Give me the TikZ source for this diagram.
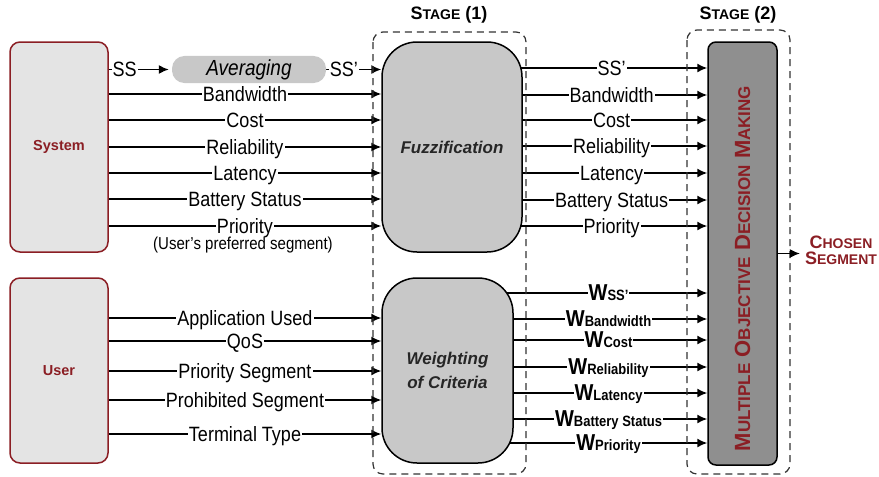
\documentclass[tikz,border=0pt]{standalone}
\usepackage{fontspec}
\usepackage{graphicx}
\setmainfont{Liberation Sans}
\usetikzlibrary{arrows.meta,backgrounds}

\definecolor{sysred}{RGB}{139,30,36}
\definecolor{srcgray}{RGB}{228,228,228}
\definecolor{procgray}{RGB}{200,200,200}
\definecolor{modmgray}{RGB}{143,143,143}

\newcommand{\bigsc}{\fontsize{18}{18}\selectfont}
\newcommand{\smallsc}{\fontsize{14}{14}\selectfont}
\newcommand{\tall}[1]{\scalebox{1}[1.15]{#1}}
\newcommand{\wlbl}[1]{\tall{{\fontsize{20}{20}\selectfont\bfseries W}{\fontsize{13}{13}\selectfont\bfseries #1}}}

\tikzset{
  srcbox/.style={draw=sysred, line width=1.5pt, fill=srcgray, rounded corners=10pt,
    minimum width=98pt, text=sysred, font=\fontsize{14.5}{16}\selectfont\bfseries},
  procbox/.style={draw=black, line width=1.5pt, fill=procgray, rounded corners=35pt,
    text=black!85, font=\fontsize{17}{24}\selectfont\bfseries\itshape},
  avgbox/.style={fill=procgray, rounded corners=12.5pt, minimum width=154pt,
    minimum height=25pt, font=\fontsize{19}{20}\selectfont\itshape},
  modmbox/.style={draw=black, line width=1.5pt, fill=modmgray, rounded corners=8pt,
    minimum width=69pt, minimum height=423pt},
  stageframe/.style={draw=black!80, line width=1.2pt, dash pattern=on 7pt off 5pt,
    rounded corners=10pt},
  stagelbl/.style={font=\bfseries, inner sep=0pt},
  wire/.style={line width=1.5pt},
  lbl/.style={fill=white, inner xsep=1pt, inner ysep=0pt, text height=15pt,
    text depth=1pt, font=\fontsize{18}{20}\selectfont},
  sublbl/.style={inner sep=0pt, font=\fontsize{15}{16}\selectfont},
}

\begin{document}
\begin{tikzpicture}[x=1pt, y=-1pt, >={Latex[length=10pt,width=9pt]}]
\useasboundingbox (0,0) rectangle (879,477);
% stage frames
\draw[stageframe] (373,32) rectangle (526,474);
\draw[stageframe] (687,30) rectangle (790,474);
\node[stagelbl] (st1) at (449,15) {{\bigsc S}{\smallsc TAGE}{\bigsc\ (1)}};
\node[stagelbl] (st2) at (738,15) {{\bigsc S}{\smallsc TAGE}{\bigsc\ (2)}};
% sources
\node[srcbox, minimum height=210pt] (sys) at (59,147) {System};
\node[srcbox, minimum height=185pt] (usr) at (59,370.5) {User};
\node[avgbox] (avg) at (249,69.5) {\tall{Averaging}};
% stage 1
\node[procbox, minimum width=140pt, minimum height=210pt] (fuzz) at (452,147) {Fuzzification};
\node[procbox, minimum width=131pt, minimum height=185pt, align=center] (wgt) at (447.5,370.5) {Weighting\\of Criteria};
% stage 2
\node[modmbox] (modm) at (742.5,253.5) {};
\node[rotate=90, inner sep=0pt, text=sysred, font=\bfseries] (modmlbl) at ([yshift=-15pt]modm.center)
  {\fontsize{22}{22}\selectfont M{\fontsize{17}{17}\selectfont ULTIPLE} O{\fontsize{17}{17}\selectfont BJECTIVE}
   D{\fontsize{17}{17}\selectfont ECISION} M{\fontsize{17}{17}\selectfont AKING}};
\node[align=center, inner sep=0pt, text=sysred, font=\bfseries] (out) at (841,250)
  {{\bigsc C}{\smallsc HOSEN}\\[2pt]{\bigsc S}{\smallsc EGMENT}};
\node[sublbl] (pref) at (243,245.5) {\tall{(User's preferred segment)}};

\begin{pgfonlayer}{background}
% system wires
\draw[->, wire, shorten >=3pt] (sys.east |- avg) -- (avg.west) node[lbl, pos=0.25]{\tall{SS}};
\draw[->, wire] (avg.east) -- (fuzz.west |- avg) node[lbl, pos=0.32]{\tall{SS'}};
\foreach \y/\t in {94/Bandwidth,120/Cost,147/Reliability,173/Latency,199/Battery Status,226/Priority}
  \draw[->, wire] (sys.east |- 0,\y) -- (fuzz.west |- 0,\y) node[lbl, midway]{\tall{\t}};
% user wires
\foreach \y/\t in {318/Application Used,341/QoS,371/Priority Segment,400/Prohibited Segment,434/Terminal Type}
  \draw[->, wire] (usr.east |- 0,\y) -- (wgt.west |- 0,\y) node[lbl, midway]{\tall{\t}};
% fuzzified criteria
\foreach \y/\t in {68/SS',95/Bandwidth,120/Cost,146/Reliability,173/Latency,200/Battery Status,226/Priority}
  \draw[->, wire] (fuzz.center |- 0,\y) -- (modm.west |- 0,\y) node[lbl, pos=0.625]{\tall{\t}};
% weights
\foreach \y/\t in {293/SS',319/Bandwidth,340/Cost,367/Reliability,393/Latency,419/Battery Status,443/Priority}
  \draw[->, wire] (wgt.center |- 0,\y) -- (modm.west |- 0,\y) node[lbl, pos=0.62]{\wlbl{\t}};
\end{pgfonlayer}
% output
\draw[->, wire, shorten >=5pt] (modm.east) -- (modm.east -| out.west);
\end{tikzpicture}
\end{document}
